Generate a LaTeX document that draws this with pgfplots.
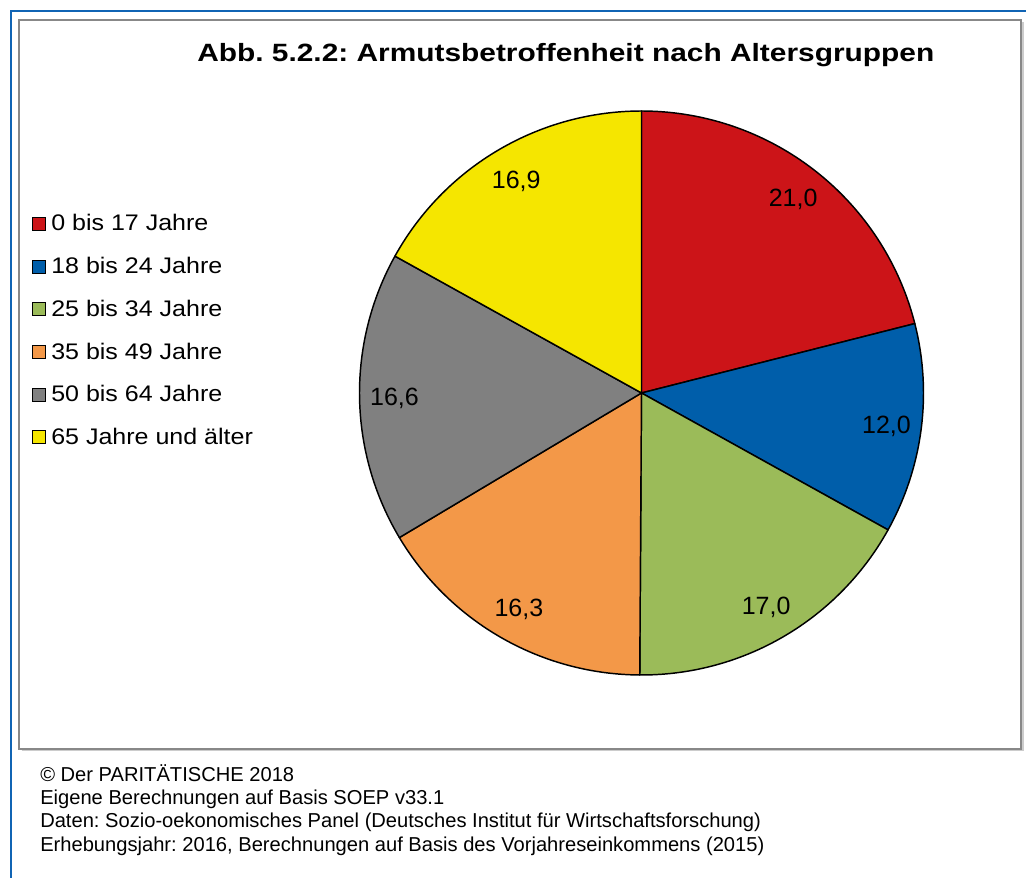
\documentclass[border=0pt]{standalone}
\usepackage{fontspec}
\setmainfont{Liberation Sans}
\newfontfamily\titlefont[FakeStretch=1.195]{Liberation Sans}
\newfontfamily\legfont[FakeStretch=1.11]{Liberation Sans}
\usepackage{pgfplots}
\pgfplotsset{compat=1.18}
\usepgfplotslibrary{polar}
\definecolor{cRed}{RGB}{204,20,24}
\definecolor{cBlue}{RGB}{0,94,170}
\definecolor{cGreen}{RGB}{155,187,89}
\definecolor{cOrange}{RGB}{243,152,72}
\definecolor{cGray}{RGB}{128,128,128}
\definecolor{cYellow}{RGB}{245,230,0}
\definecolor{frameBlue}{RGB}{16,100,180}
\definecolor{frameGray}{RGB}{136,136,136}
% values (Armutsquote in %)
\def\vA{21.0}\def\vB{12.0}\def\vC{17.0}\def\vD{16.3}\def\vE{16.6}\def\vF{16.9}
\pgfmathsetmacro\tot{\vA+\vB+\vC+\vD+\vE+\vF}
\pgfmathsetmacro\aA{90}
\pgfmathsetmacro\aB{\aA-\vA/\tot*360}
\pgfmathsetmacro\aC{\aB-\vB/\tot*360}
\pgfmathsetmacro\aD{\aC-\vC/\tot*360}
\pgfmathsetmacro\aE{\aD-\vD/\tot*360}
\pgfmathsetmacro\aF{\aE-\vE/\tot*360}
\pgfmathsetmacro\aG{\aF-\vF/\tot*360}
\begin{document}%
\frenchspacing%
\begin{tikzpicture}[x=0.75pt,y=0.75pt]
\useasboundingbox (0,0) rectangle (1026,878);
\fill[white] (0,0) rectangle (1026,878);
% frames
\draw[frameBlue, line width=1.6pt] (11,0) -- (11,867) -- (1030,867);
\draw[black!20, line width=1.2pt] (21.5,127.5) -- (1023,127.5) -- (1023,856);
\draw[frameGray, line width=1.3pt] (19,129) rectangle (1021,858);
% title
\node[anchor=base west, inner sep=0pt, font=\titlefont\bfseries\fontsize{18.75pt}{22pt}\selectfont] at (197,816) {Abb. 5.2.2: Armutsbetroffenheit nach Altersgruppen};
% pie
\begin{polaraxis}[at={(481.125pt,363.75pt)}, anchor=origin, scale only axis,
  width=423pt, height=423pt, ymin=0, ymax=1, hide axis, clip=false]
\addplot[fill=cRed, draw=black, line width=1.1pt, line join=round, domain=\aA:\aB, samples=120] {1} -- (axis cs:0,0) -- cycle;
\addplot[fill=cBlue, draw=black, line width=1.1pt, line join=round, domain=\aB:\aC, samples=80] {1} -- (axis cs:0,0) -- cycle;
\addplot[fill=cGreen, draw=black, line width=1.1pt, line join=round, domain=\aC:\aD, samples=100] {1} -- (axis cs:0,0) -- cycle;
\addplot[fill=cOrange, draw=black, line width=1.1pt, line join=round, domain=\aD:\aE, samples=100] {1} -- (axis cs:0,0) -- cycle;
\addplot[fill=cGray, draw=black, line width=1.1pt, line join=round, domain=\aE:\aF, samples=100] {1} -- (axis cs:0,0) -- cycle;
\addplot[fill=cYellow, draw=black, line width=1.1pt, line join=round, domain=\aF:\aG, samples=100] {1} -- (axis cs:0,0) -- cycle;
\tikzset{lab/.style={anchor=center, inner sep=0pt, text depth=0pt, font=\fontsize{18.75pt}{22pt}\selectfont}}
\node[lab] at (axis cs:{(\aA+\aB)/2},0.876) {21,0};
\node[lab] at (axis cs:{(\aB+\aC)/2},0.876) {12,0};
\node[lab] at (axis cs:{(\aC+\aD)/2},0.876) {17,0};
\node[lab] at (axis cs:{(\aD+\aE)/2},0.876) {16,3};
\node[lab] at (axis cs:{(\aE+\aF)/2},0.876) {16,6};
\node[lab] at (axis cs:{(\aF+\aG)/2},0.876) {16,9};
\end{polaraxis}
% legend
\foreach \c/\t [count=\i from 0] in {cRed/0 bis 17 Jahre, cBlue/18 bis 24 Jahre, cGreen/25 bis 34 Jahre, cOrange/35 bis 49 Jahre, cGray/50 bis 64 Jahre, cYellow/65 Jahre und älter}{
  \draw[fill=\c, draw=black, line width=0.75pt] (32.5,{878-230.5-42.7*\i}) rectangle (45.5,{878-217.5-42.7*\i});
  \node[anchor=base west, inner sep=0pt, font=\legfont\fontsize{16.9pt}{20pt}\selectfont] at (51,{878-231-42.7*\i}) {\t};
}
% footer
\foreach \t [count=\i from 0] in {© Der PARITÄTISCHE 2018, Eigene Berechnungen auf Basis SOEP v33.1, Daten: Sozio-oekonomisches Panel (Deutsches Institut für Wirtschaftsforschung), {Erhebungsjahr: 2016, Berechnungen auf Basis des Vorjahreseinkommens (2015)}}{
  \node[anchor=base west, inner sep=0pt, font=\fontsize{15.1pt}{18pt}\selectfont] at (40,{878-781.3-23.35*\i}) {\t};
}
\end{tikzpicture}%
\end{document}
